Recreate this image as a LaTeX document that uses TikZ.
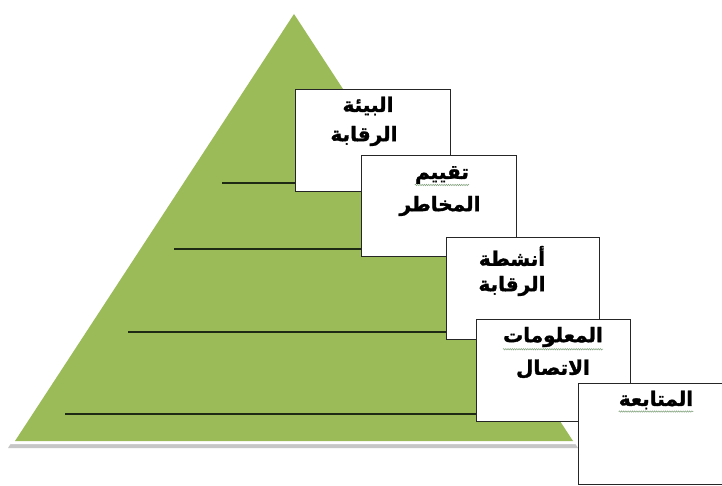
\documentclass[tikz,border=0pt]{standalone}
\usepackage{fontspec}
\newfontfamily\arabicfont[Script=Arabic,BoldFeatures={FakeBold=1.5}]{DejaVu Sans}
\TeXXeTstate=1
\usetikzlibrary{decorations.pathmorphing}
\definecolor{pyrgreen}{HTML}{9BBB59}
\definecolor{rulecol}{HTML}{1E2A14}
\definecolor{squigcol}{HTML}{7FA07A}
\begin{document}
\begin{tikzpicture}[x=1pt,y=-1pt,
  box/.style={draw=black!85,line width=1pt,fill=white,rectangle,anchor=north west,inner sep=0pt},
  lbl/.style={font=\arabicfont\bfseries\fontsize{20}{24}\selectfont,inner sep=0pt},
  rule/.style={draw=rulecol,line width=1.4pt},
  squig/.style={draw=squigcol,line width=0.5pt,decorate,decoration={snake,amplitude=0.7pt,segment length=2.2pt}}]
\useasboundingbox (0,0) rectangle (722,486);
\clip (0,0) rectangle (722,486);
\fill[white] (0,0) rectangle (722,486);
% pyramid with shadow
\fill[gray!45] (294,17) -- (8,448) -- (578,448) -- cycle;
\fill[white] (294,10) -- (10,444) -- (577,444) -- cycle;
\fill[pyrgreen] (294,14) -- (15,441) -- (573,441) -- cycle;
% level lines (end points)
\coordinate (l1) at (222,183);
\coordinate (l2) at (174,249);
\coordinate (l3) at (128,332);
\coordinate (l4) at (65,414);
% box 1
\node[box,minimum width=155pt,minimum height=102pt] (b1) at (295,89) {};
\draw[rule] (l1) -- (l1 -| b1.west);
\node[lbl] (t1a) at (368,106) {\beginR البيئة\endR};
\node[lbl] (t1b) at (364,136) {\beginR الرقابة\endR};
% box 2
\node[box,minimum width=155pt,minimum height=101pt] (b2) at (361,155) {};
\draw[rule] (l2) -- (l2 -| b2.west);
\node[lbl] (t2a) at (442,175) {\beginR تقييم\endR};
\node[lbl] (t2b) at (440,206) {\beginR المخاطر\endR};
\draw[squig] ([yshift=-1pt]t2a.south west) -- ([yshift=-1pt]t2a.south east);
% box 3
\node[box,minimum width=153pt,minimum height=102pt] (b3) at (446,237) {};
\draw[rule] (l3) -- (l3 -| b3.west);
\node[lbl] (t3a) at (512,256) {\beginR أنشطة\endR};
\node[lbl] (t3b) at (512,286) {\beginR الرقابة\endR};
% box 4
\node[box,minimum width=154pt,minimum height=102pt] (b4) at (476,319) {};
\draw[rule] (l4) -- (l4 -| b4.west);
\node[lbl] (t4a) at (553,337) {\beginR المعلومات\endR};
\node[lbl] (t4b) at (553,369) {\beginR الاتصال\endR};
\draw[squig] ([yshift=-2pt]t4a.south west) -- ([yshift=-2pt]t4a.south east);
% box 5
\node[box,minimum width=160pt,minimum height=101pt] (b5) at (578,383) {};
\node[lbl] (t5a) at (656,400) {\beginR المتابعة\endR};
\draw[squig] ([yshift=-2pt]t5a.south west) -- ([yshift=-2pt]t5a.south east);
\end{tikzpicture}
\end{document}
